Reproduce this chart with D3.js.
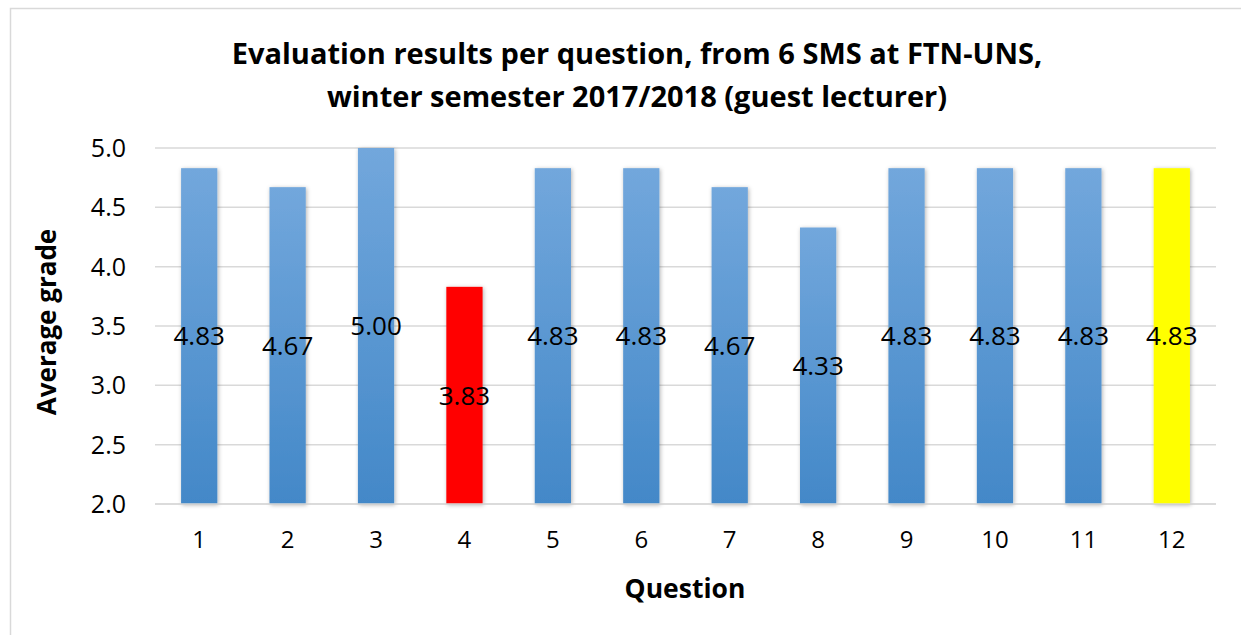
<!DOCTYPE html>
<html>
<head>
<meta charset="utf-8">
<script src="https://cdn.jsdelivr.net/npm/d3@7"></script>
<style>
  html, body { margin: 0; padding: 0; background: #fff; }
  svg { display: block; }
  text { font-family: "Open Sans", "DejaVu Sans", sans-serif; fill: #000; }
</style>
</head>
<body>
<svg id="chart" width="1241" height="635"></svg>
<script>
const questions = ["1","2","3","4","5","6","7","8","9","10","11","12"];
const grades = [4.83, 4.67, 5.00, 3.83, 4.83, 4.83, 4.67, 4.33, 4.83, 4.83, 4.83, 4.83];
const barColors = ["blue","blue","blue","red","blue","blue","blue","blue","blue","blue","blue","yellow"];
const yTicks = [2.0, 2.5, 3.0, 3.5, 4.0, 4.5, 5.0];
const titleLines = ["Evaluation results per question, from 6 SMS at FTN-UNS,", "winter semester 2017/2018 (guest lecturer)"];
const xTitle = "Question";
const yTitle = "Average grade";

const svg = d3.select("#chart");
const plot = { left: 155, right: 1216, top: 148, bottom: 504 };

// chart border
svg.append("rect").attr("x", 10.5).attr("y", 8.5).attr("width", 1300).attr("height", 700)
  .attr("fill", "#fff").attr("stroke", "#d9d9d9").attr("stroke-width", 1.5);

const defs = svg.append("defs");
const grad = defs.append("linearGradient").attr("id", "blueGrad")
  .attr("x1", 0).attr("y1", 0).attr("x2", 0).attr("y2", 1);
grad.append("stop").attr("offset", "0%").attr("stop-color", "#72a7dc");
grad.append("stop").attr("offset", "100%").attr("stop-color", "#4388c8");
const filt = defs.append("filter").attr("id", "shadow")
  .attr("x", "-30%").attr("y", "-10%").attr("width", "160%").attr("height", "120%");
filt.append("feDropShadow").attr("dx", 1).attr("dy", 1).attr("stdDeviation", 2)
  .attr("flood-color", "#000").attr("flood-opacity", 0.3);

const x = d3.scaleBand().domain(questions).range([plot.left, plot.right]).paddingInner(0.59).paddingOuter(0.295);
const y = d3.scaleLinear().domain([2, 5]).range([plot.bottom, plot.top]);

// gridlines
svg.append("g").selectAll("line").data(yTicks).join("line")
  .attr("x1", plot.left).attr("x2", plot.right)
  .attr("y1", d => y(d)).attr("y2", d => y(d))
  .attr("stroke", "#d9d9d9").attr("stroke-width", 1.5);

// y axis
const yAxis = d3.axisLeft(y).tickValues(yTicks).tickFormat(d3.format(".1f")).tickSize(0).tickPadding(29);
const gy = svg.append("g").attr("transform", `translate(${plot.left},0)`).call(yAxis);
gy.select(".domain").remove();
gy.selectAll("text").attr("font-size", 25).attr("font-family", "Open Sans").attr("fill", "#000").attr("dy", "0.34em");

// x axis
const xAxis = d3.axisBottom(x).tickSize(0).tickPadding(27);
const gx = svg.append("g").attr("transform", `translate(0,${plot.bottom})`).call(xAxis);
gx.select(".domain").remove();
gx.selectAll("text").attr("font-size", 24).attr("font-family", "Open Sans").attr("fill", "#000");

// bars
const fillFor = c => c === "red" ? "#ff0000" : c === "yellow" ? "#ffff00" : "url(#blueGrad)";
svg.append("g").selectAll("rect").data(questions).join("rect")
  .attr("x", d => x(d)).attr("width", x.bandwidth())
  .attr("y", (d, i) => y(grades[i])).attr("height", (d, i) => y(2) - y(grades[i]))
  .attr("fill", (d, i) => fillFor(barColors[i]))
  .attr("filter", "url(#shadow)");

// baseline
svg.append("line").attr("x1", plot.left).attr("x2", plot.right)
  .attr("y1", y(2)).attr("y2", y(2)).attr("stroke", "#d9d9d9").attr("stroke-width", 1.5);

// data labels (centered in bar)
svg.append("g").selectAll("text").data(questions).join("text")
  .attr("x", d => x(d) + x.bandwidth() / 2)
  .attr("y", (d, i) => (y(grades[i]) + y(2)) / 2)
  .attr("dy", "0.36em")
  .attr("text-anchor", "middle").attr("font-size", 26)
  .text((d, i) => grades[i].toFixed(2));

// title
svg.append("g").selectAll("text").data(titleLines).join("text")
  .attr("x", 637).attr("y", (d, i) => 64 + i * 43)
  .attr("text-anchor", "middle").attr("font-size", 29).attr("font-weight", "bold")
  .text(d => d);

// axis titles
svg.append("text").attr("x", 685).attr("y", 598).attr("text-anchor", "middle")
  .attr("font-size", 26.5).attr("font-weight", "bold").text(xTitle);
svg.append("text").attr("transform", `translate(56,322) rotate(-90)`).attr("text-anchor", "middle")
  .attr("font-size", 26).attr("font-weight", "bold").text(yTitle);
</script>
</body>
</html>
